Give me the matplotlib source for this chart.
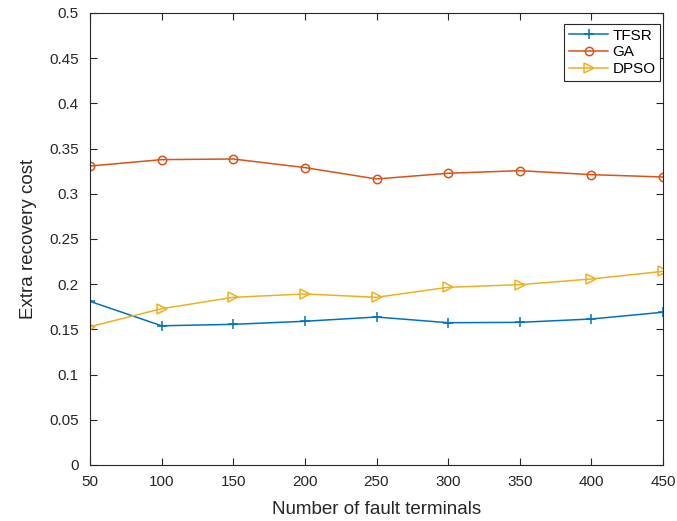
import matplotlib.pyplot as plt
import numpy as np

plt.rcParams["font.family"] = ["Liberation Sans", "DejaVu Sans"]

terminals = [50, 100, 150, 200, 250, 300, 350, 400, 450]
tfsr = [0.181, 0.154, 0.1556, 0.159, 0.1637, 0.1574, 0.1578, 0.1615, 0.169]
ga = [0.3307, 0.3378, 0.3385, 0.329, 0.3164, 0.3227, 0.3256, 0.3212, 0.3186]
dpso = [0.153, 0.1729, 0.1855, 0.1892, 0.1855, 0.1966, 0.1995, 0.2058, 0.2142]
ytick_labels = ["0", "0.05", "0.1", "0.15", "0.2", "0.25", "0.3", "0.35",
                "0.4", "0.45", "0.5"]

fig = plt.figure(figsize=(6.77, 5.21), dpi=100)
ax = fig.add_axes([90 / 677, 56 / 521, 573 / 677, 452 / 521])

ax.plot(terminals, tfsr, "-+", color=(0, 0.447, 0.741), lw=1.1, ms=7, mew=1.1, label="TFSR")
ax.plot(terminals, ga, "-o", color=(0.85, 0.325, 0.098), lw=1.1, ms=6, mew=1.1,
        mfc="none", label="GA")
ax.plot(terminals, dpso, "->", color=(0.929, 0.694, 0.125), lw=1.1, ms=7, mew=1.1,
        mfc="none", label="DPSO")

ax.set_xlim(50, 450)
ax.set_ylim(0, 0.5)
ax.set_xticks(terminals)
ax.set_yticks(np.arange(0, 0.51, 0.05))
ax.set_yticklabels(ytick_labels)
ax.tick_params(direction="in", top=True, right=True, labelsize=11, length=5,
               width=0.8, colors="#262626")
ax.tick_params(axis="x", pad=7)
ax.tick_params(axis="y", pad=8)
for s in ax.spines.values():
    s.set_color("#262626")
    s.set_linewidth(0.8)
ax.set_xlabel("Number of fault terminals", fontsize=13.5, color="#262626", labelpad=9)
ax.set_ylabel("Extra recovery cost", fontsize=13.5, color="#262626", labelpad=9)

leg = ax.legend(loc="upper right", fontsize=11, fancybox=False, edgecolor="#262626",
                framealpha=1, handlelength=2.6, borderpad=0.3, labelspacing=0.18,
                handletextpad=0.25, borderaxespad=0,
                bbox_to_anchor=(660 / 677, 1 - 24 / 521), bbox_transform=fig.transFigure)
leg.get_frame().set_linewidth(0.8)

fig.savefig("out.png", dpi=100)
